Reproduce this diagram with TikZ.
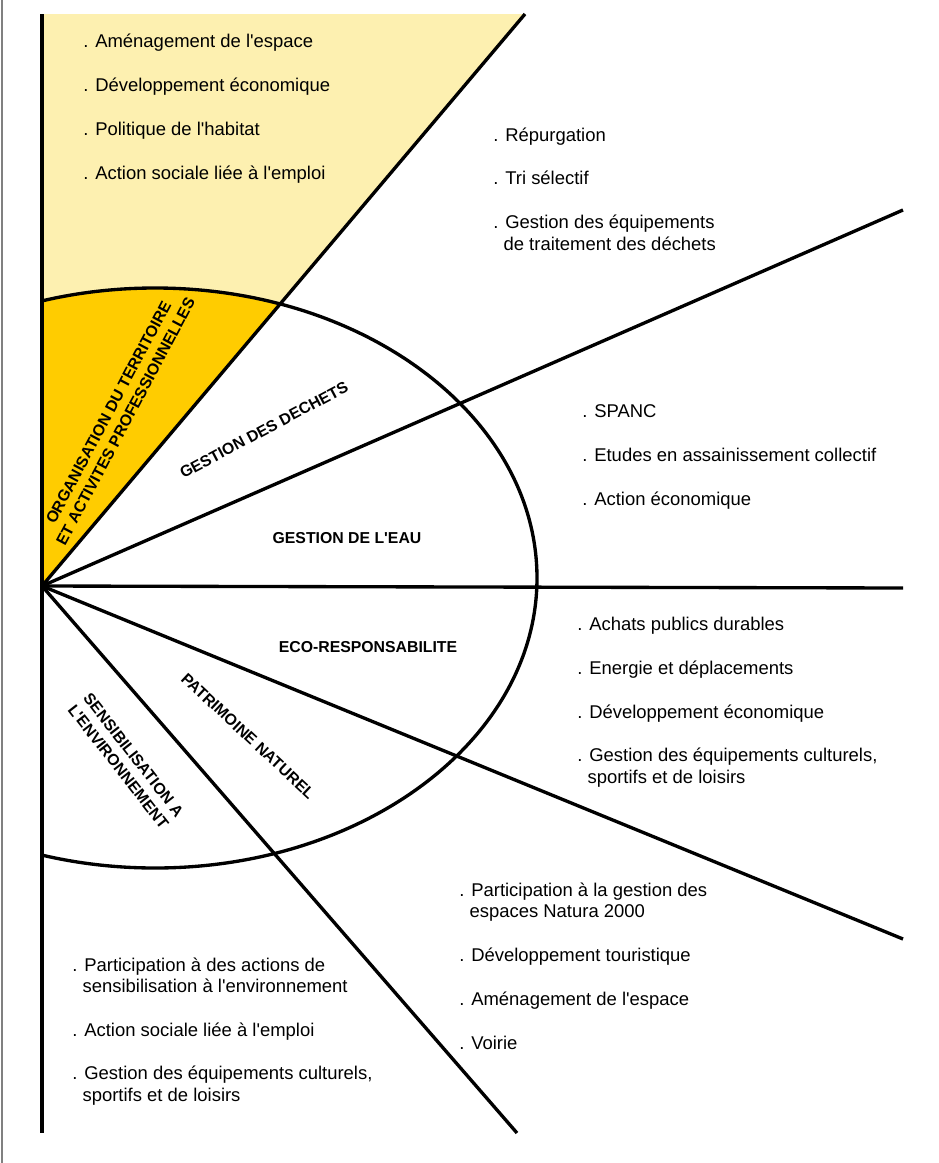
\documentclass[tikz,border=0pt]{standalone}
\usepackage{fontspec}
\setmainfont{Liberation Sans}[Ligatures=TeXOff]
\usetikzlibrary{positioning}
\definecolor{paleyellow}{RGB}{253,240,176}
\definecolor{darkyellow}{RGB}{255,204,0}
\newcommand{\contind}{\hphantom{.\ }}

\begin{document}
\begin{tikzpicture}[x=0.02cm, y=-0.02cm,
  ray/.style={line width=1.9pt},
  theme/.style={font=\bfseries\fontsize{9}{11}\selectfont, align=center, inner sep=0pt},
  items/.style={font=\fontsize{10.5}{12}\selectfont, align=left, anchor=base west, inner sep=0pt}]

  \useasboundingbox (0,0) rectangle (938,1163);

  % frame
  \draw[gray, line width=0.6pt] (2,0) -- (2,1163);

  % centre and ray ends
  \coordinate (O) at (42,586);
  \coordinate (n) at (42,14);
  \coordinate (s) at (42,1133);
  \coordinate (r1) at (525,14);
  \coordinate (r2) at (903,210);
  \coordinate (r3) at (903,588);
  \coordinate (r4) at (903,939);
  \coordinate (r5) at (517,1133);

  % yellow sector
  \fill[paleyellow] (O) -- (n) -- (r1) -- cycle;
  \begin{scope}
    \clip (O) -- (n) -- (r1) -- cycle;
    \fill[darkyellow] (155,578) ellipse [x radius=382, y radius=290];
  \end{scope}

  % ellipse
  \begin{scope}
    \clip (42,0) rectangle (938,1163);
    \draw[ray] (155,578) ellipse [x radius=382, y radius=290];
  \end{scope}

  % rays
  \draw[ray] (n) -- (s);
  \draw[ray] (O) -- (r1);
  \draw[ray] (O) -- (r2);
  \draw[ray] (O) -- (r3);
  \draw[ray] (O) -- (r4);
  \draw[ray] (O) -- (r5);

  % themes
  \node[theme, rotate=62] (orga) at (117,417) {ORGANISATION DU TERRITOIRE\\ET ACTIVITES PROFESSIONNELLES};
  \node[theme, rotate=28] (dechets) at (264,430) {GESTION DES DECHETS};
  \node[theme] (eau) at (347,538) {GESTION DE L'EAU};
  \node[theme] (eco) at (368,647) {ECO-RESPONSABILITE};
  \node[theme, rotate=-43] (patri) at (248,736) {PATRIMOINE NATUREL};
  \node[theme, rotate=-52] (sensi) at (126,761) {SENSIBILISATION A\\L'ENVIRONNEMENT};

  % competences (placed by the baseline of their last line)
  \node[items] (tl) at (83,179) {. Aménagement de l'espace\\[13pt]
    . Développement économique\\[13pt]
    . Politique de l'habitat\\[13pt]
    . Action sociale liée à l'emploi};
  \node[items] (tr) at (493,250) {. Répurgation\\[13pt]
    . Tri sélectif\\[13pt]
    . Gestion des équipements\\
    \contind de traitement des déchets};
  \node[items] (mr) at (582,505) {. SPANC\\[13pt]
    . Etudes en assainissement collectif\\[13pt]
    . Action économique};
  \node[items] (lr) at (577,783) {. Achats publics durables\\[13pt]
    . Energie et déplacements\\[13pt]
    . Développement économique\\[13pt]
    . Gestion des équipements culturels,\\
    \contind sportifs et de loisirs};
  \node[items] (bm) at (459,1049) {. Participation à la gestion des\\
    \contind espaces Natura 2000\\[13pt]
    . Développement touristique\\[13pt]
    . Aménagement de l'espace\\[13pt]
    . Voirie};
  \node[items] (bl) at (72,1101) {. Participation à des actions de\\
    \contind sensibilisation à l'environnement\\[13pt]
    . Action sociale liée à l'emploi\\[13pt]
    . Gestion des équipements culturels,\\
    \contind sportifs et de loisirs};
\end{tikzpicture}
\end{document}
